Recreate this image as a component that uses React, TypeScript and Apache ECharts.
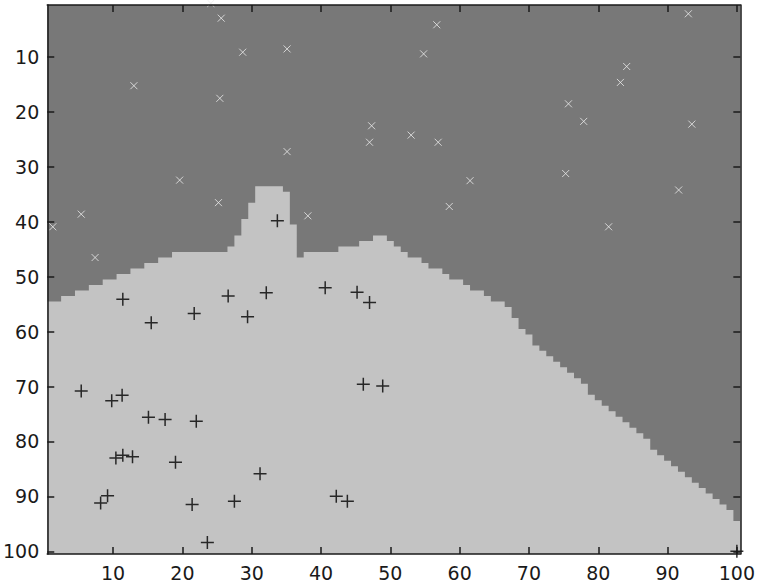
import React, { useEffect, useRef } from "react";
import * as echarts from "echarts";

// First row (from the top) of the light class region in each column 1..100
const boundaryRow = [
  55, 55, 54, 54, 53, 53, 52, 52, 51, 51, 50, 50, 49, 49, 48, 48, 47, 47,
  46, 46, 46, 46, 46, 46, 46, 46,
  45, 43, 40, 37,
  34, 34, 34, 34,
  35, 41, 47,
  46, 46, 46, 46, 46,
  45, 45, 45,
  44, 44,
  43, 43,
  44, 45, 46,
  47, 47,
  48,
  49, 49,
  50,
  51, 51,
  52,
  53, 53,
  54,
  55, 55,
  56, 58, 60, 61, 63, 64, 65, 66, 67, 68, 69, 70, 72, 73, 74, 75, 76, 77, 78,
  79, 80, 82, 83, 84, 85, 86, 87, 88, 89, 90, 91, 92, 93, 95,
];

// Class "x" samples: [column, row]
const crossPoints: [number, number][] = [
  [24.1, 0.2], [25.6, 2.9], [28.7, 9.1], [13.0, 15.2], [25.4, 17.5],
  [19.6, 32.4], [25.2, 36.5], [35.1, 8.5], [56.7, 4.1], [54.8, 9.4],
  [47.3, 22.5], [47.0, 25.5], [53.0, 24.2], [56.9, 25.5], [35.1, 27.2],
  [61.5, 32.5], [93.0, 2.1], [84.1, 11.7], [83.2, 14.6], [75.7, 18.5],
  [77.9, 21.7], [93.5, 22.2], [75.3, 31.2], [91.6, 34.2], [5.4, 38.6],
  [1.3, 40.9], [7.4, 46.5], [38.1, 38.9], [58.5, 37.2], [81.5, 40.9],
];

// Class "+" samples: [column, row]
const plusPoints: [number, number][] = [
  [11.4, 54.1], [15.5, 58.4], [21.7, 56.7], [26.6, 53.5], [33.7, 39.8],
  [32.1, 52.9], [40.6, 52.0], [45.2, 52.8], [47.0, 54.7], [29.4, 57.3],
  [46.1, 69.6], [48.9, 69.9], [31.2, 85.9], [42.2, 90.0], [43.8, 90.9],
  [5.4, 70.8], [9.8, 72.6], [11.3, 71.6], [15.1, 75.6], [17.5, 76.0],
  [22.0, 76.3], [10.4, 83.0], [11.4, 82.5], [12.8, 82.8], [19.0, 83.8],
  [8.2, 91.2], [9.2, 89.9], [21.4, 91.5], [27.5, 90.9], [23.6, 98.4],
  [100, 100],
];

const xTicks = [10, 20, 30, 40, 50, 60, 70, 80, 90, 100];
const yTicks = [10, 20, 30, 40, 50, 60, 70, 80, 90, 100];

const DARK = "#787878";
const LIGHT = "#c3c3c3";
const AXIS = "#1a1a1a";

export default function App() {
  const ref = useRef<HTMLDivElement>(null);

  useEffect(() => {
    if (!ref.current) return;
    const chart = echarts.init(ref.current, undefined, { renderer: "svg" });

    const regionData = boundaryRow.map((b, i) => [i + 1, b]);

    const labelStyle = {
      color: AXIS,
      fontFamily: "DejaVu Sans",
      fontSize: 19,
    };

    const axisCommon = {
      type: "value" as const,
      min: 0.5,
      max: 100.5,
      z: 5,
      splitLine: { show: false },
      axisLine: { show: true, onZero: false, lineStyle: { color: AXIS, width: 1.5 } },
    };

    const tick = (values: number[]) => ({
      inside: true,
      length: 7,
      customValues: values,
      lineStyle: { color: AXIS, width: 1.5 },
    });

    chart.setOption({
      animation: false,
      backgroundColor: "#ffffff",
      grid: {
        left: 46,
        right: 15,
        top: 5,
        bottom: 33,
        show: true,
        backgroundColor: DARK,
        borderWidth: 0,
      },
      xAxis: [
        {
          ...axisCommon,
          position: "bottom",
          axisTick: tick(xTicks),
          axisLabel: { ...labelStyle, margin: 9, customValues: xTicks },
        },
        {
          ...axisCommon,
          position: "top",
          axisTick: tick(xTicks),
          axisLabel: { show: false },
        },
      ],
      yAxis: [
        {
          ...axisCommon,
          inverse: true,
          position: "left",
          axisTick: tick(yTicks),
          axisLabel: { ...labelStyle, margin: 8, customValues: yTicks },
        },
        {
          ...axisCommon,
          inverse: true,
          position: "right",
          axisTick: tick(yTicks),
          axisLabel: { show: false },
        },
      ],
      series: [
        {
          // light class region: one staircase polygon over all columns
          type: "custom",
          clip: true,
          silent: true,
          data: [0],
          renderItem: (_params: any, api: any) => {
            const pts: number[][] = [api.coord([0.5, 100.5])];
            regionData.forEach(([x, b]) => {
              pts.push(api.coord([x - 0.5, b - 0.5]));
              pts.push(api.coord([x + 0.5, b - 0.5]));
            });
            pts.push(api.coord([100.5, 100.5]));
            return {
              type: "polygon",
              shape: { points: pts },
              style: { fill: LIGHT, stroke: null },
            };
          },
        },
        {
          type: "scatter",
          clip: false,
          silent: true,
          data: crossPoints,
          symbol: "path://M0,0L10,10M10,0L0,10",
          symbolSize: 7,
          itemStyle: { color: "none", borderColor: "#ececec", borderWidth: 1 },
        },
        {
          type: "scatter",
          clip: false,
          silent: true,
          data: plusPoints,
          symbol: "path://M5,0L5,10M0,5L10,5",
          symbolSize: 13,
          itemStyle: { color: "none", borderColor: "#000000", borderWidth: 1.5 },
        },
      ],
    });

    return () => chart.dispose();
  }, []);

  return (
    <div
      ref={ref}
      style={{ position: "absolute", left: 0, top: 0, width: 758, height: 587 }}
    />
  );
}
